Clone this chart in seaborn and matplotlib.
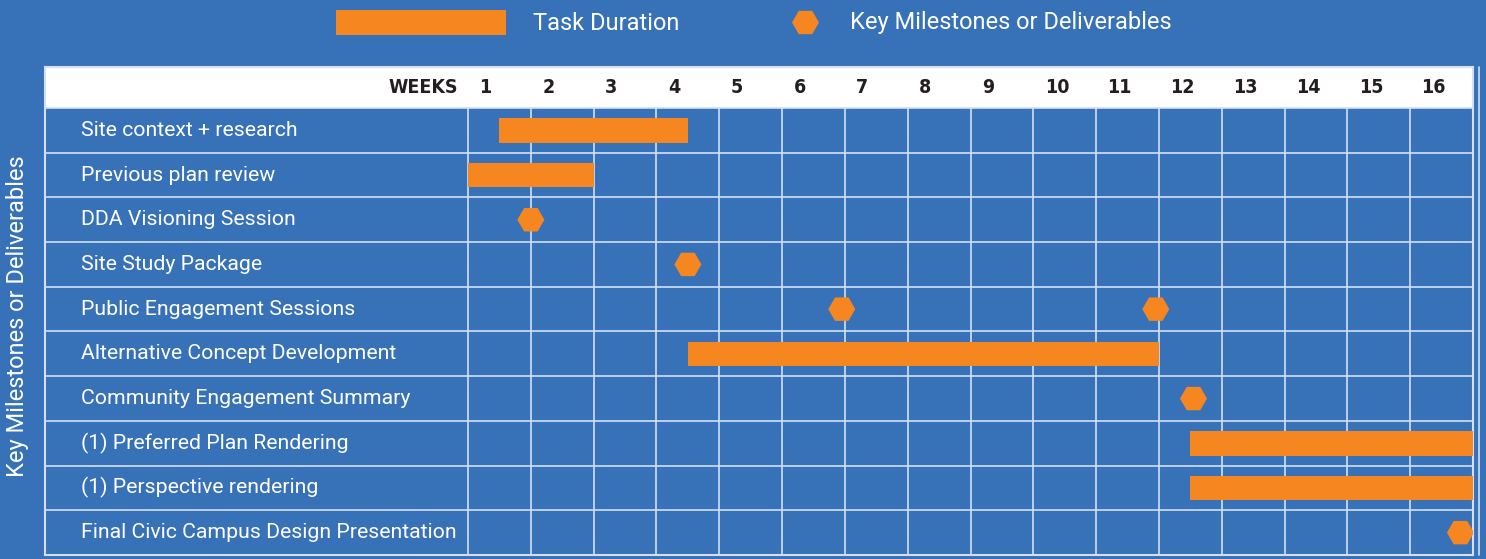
import numpy as np
import pandas as pd
import matplotlib.pyplot as plt
from matplotlib.patches import Rectangle
from matplotlib.lines import Line2D
import seaborn as sns

# rows of the schedule, top to bottom
tasks = [
    "Site context + research",
    "Previous plan review",
    "DDA Visioning Session",
    "Site Study Package",
    "Public Engagement Sessions",
    "Alternative Concept Development",
    "Community Engagement Summary",
    "(1) Preferred Plan Rendering",
    "(1) Perspective rendering",
    "Final Civic Campus Design Presentation",
]
weeks = list(range(1, 17))

# task durations (in weeks, 0 = start of week 1)
bar_tasks = [
    "Site context + research",
    "Previous plan review",
    "Alternative Concept Development",
    "(1) Preferred Plan Rendering",
    "(1) Perspective rendering",
]
bar_start = [0.5, 0.0, 3.5, 11.5, 11.5]
bar_end = [3.5, 2.0, 11.0, 16.0, 16.0]

# milestones / deliverables
milestone_tasks = [
    "DDA Visioning Session",
    "Site Study Package",
    "Public Engagement Sessions",
    "Public Engagement Sessions",
    "Community Engagement Summary",
    "Final Civic Campus Design Presentation",
]
milestone_week = [1.0, 3.5, 5.95, 10.95, 11.55, 15.8]

BLUE = "#3771b8"
ORANGE = "#f58620"
GRID = "#d3e0f1"

sns.set_style("white", {"axes.facecolor": BLUE, "figure.facecolor": BLUE})
plt.rcParams["font.family"] = ["Roboto", "DejaVu Sans"]

W, H = 1486, 559
fig = plt.figure(figsize=(W / 100, H / 100), dpi=100)
ax = fig.add_axes([45 / W, 4 / H, 1428 / W, 488 / H])

row = {t: i for i, t in enumerate(tasks)}
x_left = -6.736
head_top = -1.417

bars = pd.DataFrame({"task": bar_tasks, "start": bar_start, "end": bar_end})
bars["y"] = bars["task"].map(row)
ax.barh(bars["y"], bars["end"] - bars["start"], left=bars["start"],
        height=0.55, color=ORANGE, linewidth=0, zorder=3)

ms = pd.DataFrame({"task": milestone_tasks, "week": milestone_week})
ms["y"] = ms["task"].map(row)
sns.scatterplot(data=ms, x="week", y="y", marker="H", s=380, color=ORANGE,
                edgecolor="none", ax=ax, zorder=4)

# header band + table grid
ax.axhspan(head_top, -0.5, color="white", lw=0, zorder=1)
ax.hlines(np.arange(-0.5, len(tasks)), x_left, 16, color=GRID, lw=1.2, zorder=2)
ax.vlines(range(0, 17), -0.5, len(tasks) - 0.5, color=GRID, lw=1.2, zorder=2)
ax.axvline(16.1, color=GRID, lw=1.2, clip_on=False)

for t, i in row.items():
    ax.text(-6.16, i, t, color="white", fontsize=15.3, va="center", ha="left")

head = dict(va="center", fontsize=14, fontweight="bold", family="DejaVu Sans",
            fontstretch="condensed", color="#231f20")
ax.text(-0.16, -0.95, "WEEKS", ha="right", **head)
for w in weeks:
    ax.text(w - 1 + 0.18, -0.95, str(w), ha="left", **head)

ax.set_xlim(x_left, 16)
ax.set_ylim(len(tasks) - 0.5, head_top)
ax.set_xticks([])
ax.set_yticks([])
ax.set_xlabel("")
ax.set_ylabel("")
for s in ax.spines.values():
    s.set_color(GRID)
    s.set_linewidth(1.5)

fig.text(18 / W, 1 - 316 / H, "Key Milestones or Deliverables", rotation=90,
         ha="center", va="center", fontsize=17, color="white")

# legend along the top
fig.add_artist(Rectangle((336 / W, 1 - 35 / H), 170 / W, 25 / H, lw=0,
                         color=ORANGE, transform=fig.transFigure))
fig.text(533 / W, 1 - 23 / H, "Task Duration", ha="left", va="center",
         fontsize=17, color="white")
fig.add_artist(Line2D([805 / W], [1 - 22 / H], marker="H", markersize=19.4,
                      color=ORANGE, markeredgewidth=0, transform=fig.transFigure))
fig.text(850 / W, 1 - 23 / H, "Key Milestones or Deliverables", ha="left",
         va="center", fontsize=17, color="white")

fig.savefig("out.png", dpi=100, facecolor=BLUE)
